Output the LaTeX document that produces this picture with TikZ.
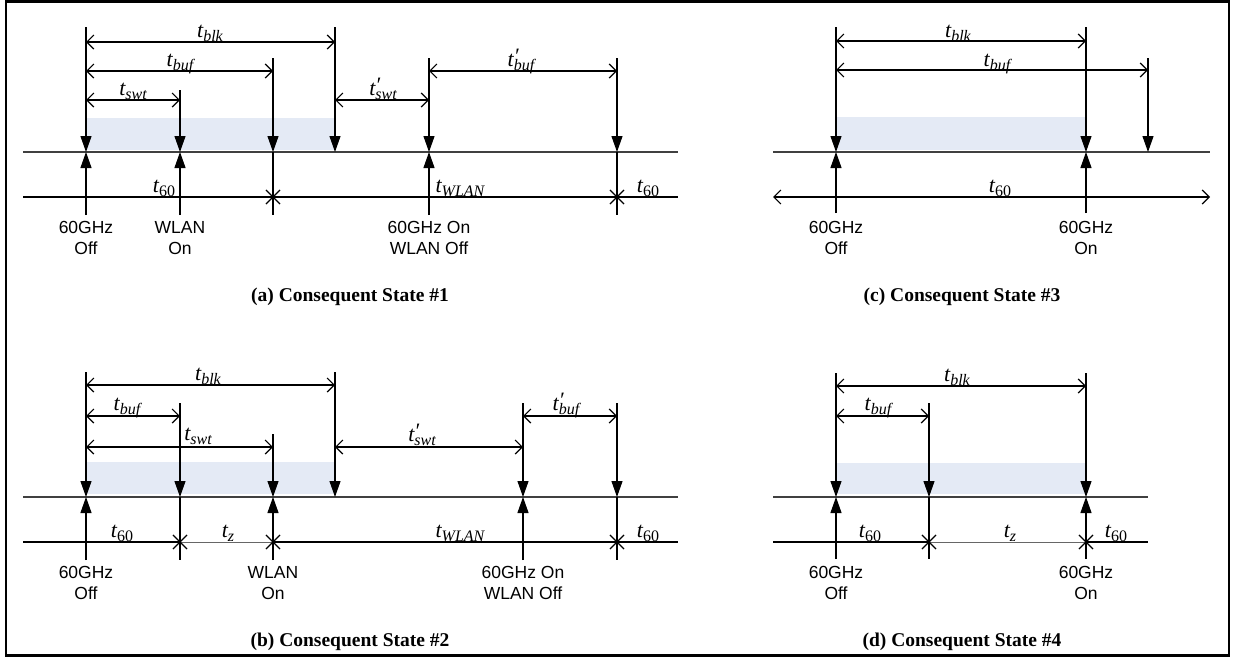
\documentclass[tikz,border=0pt]{standalone}
\usepackage{fontspec}
\setmainfont{Liberation Serif}
\newfontfamily\sansf{Liberation Sans}
\usetikzlibrary{arrows.meta,shapes.misc}
\definecolor{shadeblue}{HTML}{E4EAF5}
\newcommand{\tlbl}[1]{{\fontsize{22}{22}\selectfont\itshape t}{\fontsize{16}{16}\selectfont\itshape\raisebox{-4pt}{#1}}}
\newcommand{\tplbl}[1]{{\fontsize{22}{22}\selectfont\itshape t\rlap{\raisebox{3pt}{\char"2032}}}{\fontsize{16}{16}\selectfont\itshape\raisebox{-4pt}{#1}}}
\tikzset{
  vline/.style={line width=1.1pt, black},
  dnarr/.style={vline, -{Triangle[length=16pt,width=11pt]}},
  dimarr/.style={line width=1.2pt, {Straight Barb[length=7pt,width=14pt]}-{Straight Barb[length=7pt,width=14pt]}},
  tline/.style={line width=1.2pt, black!75},
  bline/.style={line width=1.3pt, black},
  zline/.style={line width=0.9pt, black!60},
  shadebox/.style={fill=shadeblue, draw=none},
  xmark/.style={cross out, draw, line width=1.1pt, minimum size=13pt, inner sep=0pt},
  tlab/.style={anchor=base, inner sep=0pt},
  evlab/.style={anchor=north, align=center, inner sep=0pt, font=\sansf\fontsize{17.5}{21}\selectfont},
  caplab/.style={font=\bfseries\fontsize{19.5}{20}\selectfont, inner sep=0pt},
}
\begin{document}
\begin{tikzpicture}[x=1pt,y=-1pt]
\useasboundingbox (0,0) rectangle (1234,659);
\draw[line width=2.5pt] (6,1.5) rectangle (1229,655.5);

% ================= Panel (a) =================
\fill[shadebox] (86,118) rectangle (335,150);
\coordinate (aL) at (23,152); \coordinate (aR) at (678,152);
\coordinate (aBL) at (23,197); \coordinate (aBR) at (678,197);
\draw[tline] (aL) -- (aR);
\draw[bline] (aBL) -- (aBR);
\foreach \n/\x/\t in {1/86/27, 2/180/90, 3/273/58, 4/335/27, 5/429/58, 6/617/58} {
  \coordinate (a\n-t) at (\x,\t);
  \coordinate (a\n-m) at (\x,152);
  \coordinate (a\n-b) at (\x,215);
  \coordinate (a\n-x) at (\x,197);
}
\foreach \n in {1,...,6} \draw[dnarr] (a\n-t) -- (a\n-m);
\foreach \n in {1,2,5} \draw[dnarr] (a\n-b) -- (a\n-m);
\foreach \n in {3,6} {\draw[vline] (a\n-m) -- (a\n-b); \node[xmark] (a\n-X) at (a\n-x) {};}
\draw[dimarr] (a1-t |- 0,42) -- (a4-t |- 0,42);
\draw[dimarr] (a1-t |- 0,71) -- (a3-t |- 0,71);
\draw[dimarr] (a1-t |- 0,100) -- (a2-t |- 0,100);
\draw[dimarr] (a4-t |- 0,100) -- (a5-t |- 0,100);
\draw[dimarr] (a5-t |- 0,71) -- (a6-t |- 0,71);
\node[tlab] (a-blk) at (210,37) {\tlbl{blk}};
\node[tlab] (a-buf) at (180,66) {\tlbl{buf}};
\node[tlab] (a-swt) at (133,95) {\tlbl{swt}};
\node[tlab] (a-swtp) at (383,95) {\tplbl{swt}};
\node[tlab] (a-bufp) at (521,66) {\tplbl{buf}};
\node[tlab] (a-t60) at (164,192) {\tlbl{\upshape 60}};
\node[tlab] (a-wlan) at (460,192) {\tlbl{WLAN}};
\node[tlab] (a-t60r) at (648,192) {\tlbl{\upshape 60}};
\node[evlab] (a-e1) at (86,221) {60GHz\\Off};
\node[evlab] (a-e2) at (180,221) {WLAN\\On};
\node[evlab] (a-e5) at (429,221) {60GHz On\\WLAN Off};
\node[caplab] (a-cap) at (350,297) {(a) Consequent State \#1};

% ================= Panel (b) =================
\fill[shadebox] (86,462) rectangle (335,494);
\coordinate (bL) at (23,497); \coordinate (bR) at (678,497);
\coordinate (bBL) at (23,542); \coordinate (bBR) at (678,542);
\draw[tline] (bL) -- (bR);
\foreach \n/\x/\t in {1/86/372, 2/180/403, 3/273/434, 4/335/372, 5/523/403, 6/617/403} {
  \coordinate (b\n-t) at (\x,\t);
  \coordinate (b\n-m) at (\x,497);
  \coordinate (b\n-b) at (\x,560);
  \coordinate (b\n-x) at (\x,542);
}
\draw[bline] (bBL) -- (b2-x);
\draw[zline] (b2-x) -- (b3-x);
\draw[bline] (b3-x) -- (bBR);
\foreach \n in {1,...,6} \draw[dnarr] (b\n-t) -- (b\n-m);
\foreach \n in {1,3,5} \draw[dnarr] (b\n-b) -- (b\n-m);
\foreach \n in {2,6} \draw[vline] (b\n-m) -- (b\n-b);
\foreach \n in {2,3,6} \node[xmark] (b\n-X) at (b\n-x) {};
\draw[dimarr] (b1-t |- 0,385) -- (b4-t |- 0,385);
\draw[dimarr] (b1-t |- 0,416) -- (b2-t |- 0,416);
\draw[dimarr] (b1-t |- 0,447) -- (b3-t |- 0,447);
\draw[dimarr] (b4-t |- 0,447) -- (b5-t |- 0,447);
\draw[dimarr] (b5-t |- 0,416) -- (b6-t |- 0,416);
\node[tlab] (b-blk) at (208,380) {\tlbl{blk}};
\node[tlab] (b-buf) at (127,410) {\tlbl{buf}};
\node[tlab] (b-swt) at (198,440) {\tlbl{swt}};
\node[tlab] (b-swtp) at (422,441) {\tplbl{swt}};
\node[tlab] (b-bufp) at (566,410) {\tplbl{buf}};
\node[tlab] (b-t60) at (122,537) {\tlbl{\upshape 60}};
\node[tlab] (b-tz) at (228,537) {\tlbl{z}};
\node[tlab] (b-wlan) at (460,537) {\tlbl{WLAN}};
\node[tlab] (b-t60r) at (648,537) {\tlbl{\upshape 60}};
\node[evlab] (b-e1) at (86,566) {60GHz\\Off};
\node[evlab] (b-e3) at (273,566) {WLAN\\On};
\node[evlab] (b-e5) at (523,566) {60GHz On\\WLAN Off};
\node[caplab] (b-cap) at (350,642) {(b) Consequent State \#2};

% ================= Panel (c) =================
\fill[shadebox] (836,117) rectangle (1086,150);
\coordinate (cL) at (773,152); \coordinate (cR) at (1210,152);
\coordinate (cBL) at (773,197); \coordinate (cBR) at (1210,197);
\draw[tline] (cL) -- (cR);
\draw[dimarr] (cBL) -- (cBR);
\foreach \n/\x/\t in {1/836/27, 2/1086/27, 3/1148/58} {
  \coordinate (c\n-t) at (\x,\t);
  \coordinate (c\n-m) at (\x,152);
  \coordinate (c\n-b) at (\x,213);
}
\foreach \n in {1,2,3} \draw[dnarr] (c\n-t) -- (c\n-m);
\foreach \n in {1,2} \draw[dnarr] (c\n-b) -- (c\n-m);
\draw[dimarr] (c1-t |- 0,41) -- (c2-t |- 0,41);
\draw[dimarr] (c1-t |- 0,70) -- (c3-t |- 0,70);
\node[tlab] (c-blk) at (958,37) {\tlbl{blk}};
\node[tlab] (c-buf) at (997,66) {\tlbl{buf}};
\node[tlab] (c-t60) at (1000,192) {\tlbl{\upshape 60}};
\node[evlab] (c-e1) at (836,221) {60GHz\\Off};
\node[evlab] (c-e2) at (1086,221) {60GHz\\On};
\node[caplab] (c-cap) at (962,297) {(c) Consequent State \#3};

% ================= Panel (d) =================
\fill[shadebox] (836,463) rectangle (1086,494);
\coordinate (dL) at (773,497); \coordinate (dR) at (1148,497);
\coordinate (dBL) at (773,542); \coordinate (dBR) at (1148,542);
\draw[tline] (dL) -- (dR);
\foreach \n/\x/\t in {1/836/373, 2/929/403, 3/1086/373} {
  \coordinate (d\n-t) at (\x,\t);
  \coordinate (d\n-m) at (\x,497);
  \coordinate (d\n-b) at (\x,559);
  \coordinate (d\n-x) at (\x,542);
}
\draw[bline] (dBL) -- (d2-x);
\draw[zline] (d2-x) -- (d3-x);
\draw[bline] (d3-x) -- (dBR);
\foreach \n in {1,2,3} \draw[dnarr] (d\n-t) -- (d\n-m);
\foreach \n in {1,3} \draw[dnarr] (d\n-b) -- (d\n-m);
\draw[vline] (d2-m) -- (d2-b);
\foreach \n in {2,3} \node[xmark] (d\n-X) at (d\n-x) {};
\draw[dimarr] (d1-t |- 0,386) -- (d3-t |- 0,386);
\draw[dimarr] (d1-t |- 0,416) -- (d2-t |- 0,416);
\node[tlab] (d-blk) at (957,381) {\tlbl{blk}};
\node[tlab] (d-buf) at (878,410) {\tlbl{buf}};
\node[tlab] (d-t60) at (870,537) {\tlbl{\upshape 60}};
\node[tlab] (d-tz) at (1010,537) {\tlbl{z}};
\node[tlab] (d-t60r) at (1116,537) {\tlbl{\upshape 60}};
\node[evlab] (d-e1) at (836,566) {60GHz\\Off};
\node[evlab] (d-e3) at (1086,566) {60GHz\\On};
\node[caplab] (d-cap) at (962,642) {(d) Consequent State \#4};
\end{tikzpicture}
\end{document}
